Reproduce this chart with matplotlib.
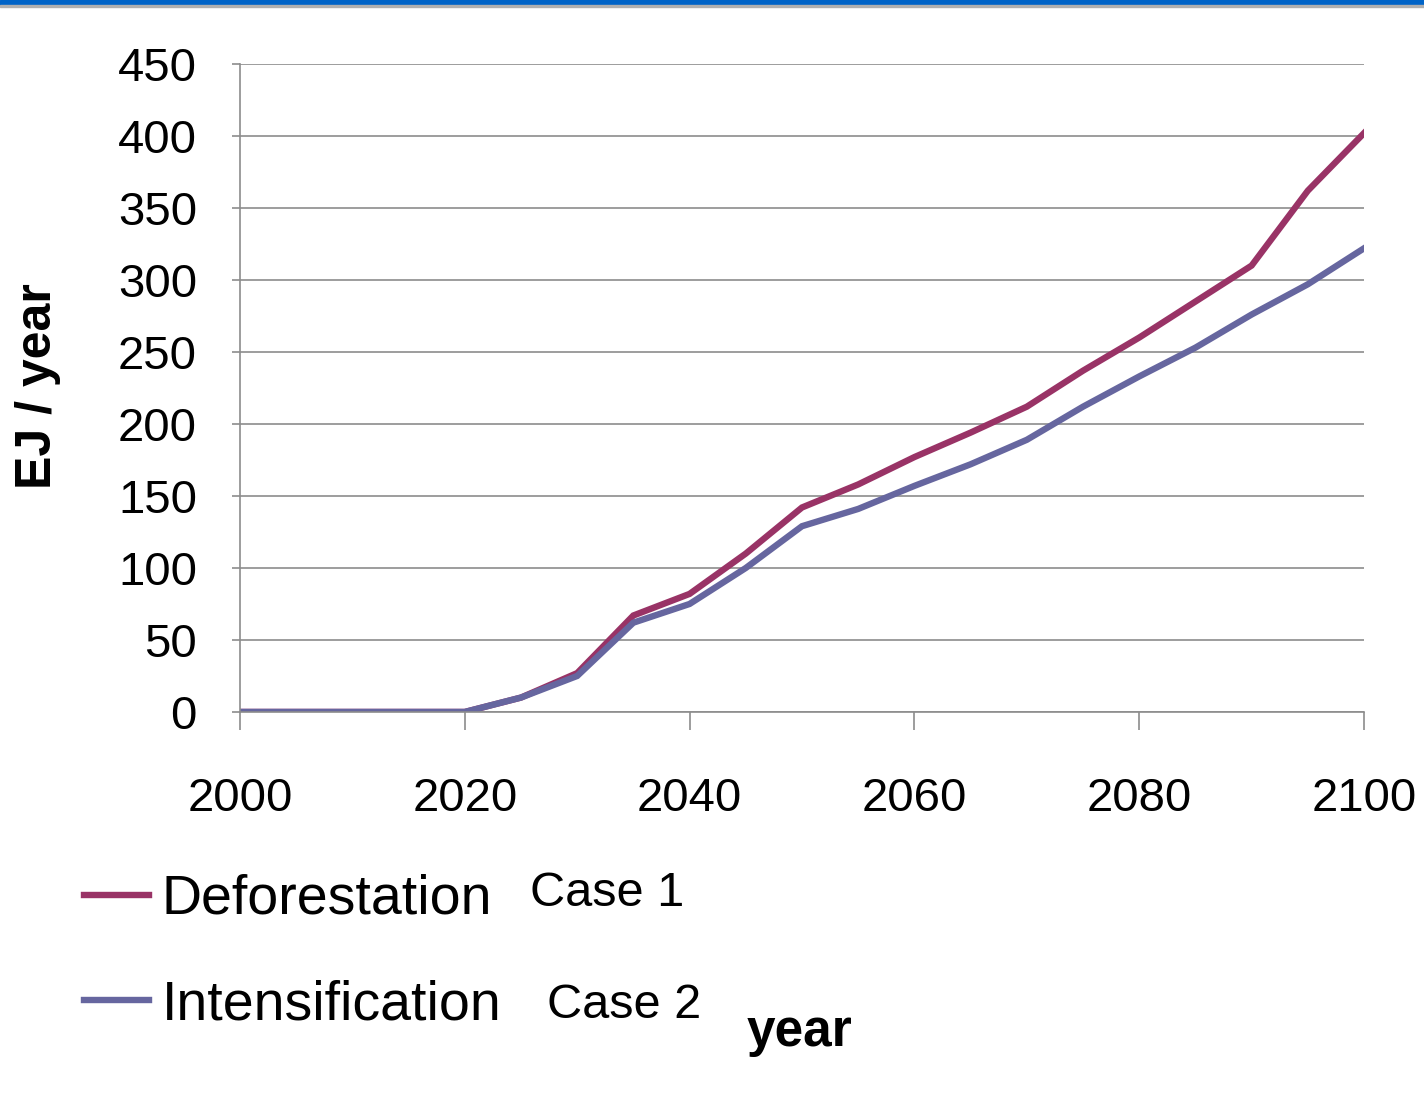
import matplotlib.pyplot as plt
from matplotlib.patches import Rectangle
from matplotlib import font_manager

years = [2000, 2005, 2010, 2015, 2020, 2025, 2030, 2035, 2040, 2045, 2050,
         2055, 2060, 2065, 2070, 2075, 2080, 2085, 2090, 2095, 2100]
deforestation = [0, 0, 0, 0, 0, 10, 27, 67, 82, 110, 142,
                 158, 177, 194, 212, 237, 260, 285, 310, 362, 402]
intensification = [0, 0, 0, 0, 0, 10, 25, 62, 75, 100, 129,
                   141, 157, 172, 189, 212, 233, 253, 276, 297, 322]
case_labels = ["Case 1", "Case 2"]

names = {f.name for f in font_manager.fontManager.ttflist}
narrow = "Liberation Sans Narrow" if "Liberation Sans Narrow" in names else "Liberation Sans"
plt.rcParams["font.family"] = [narrow, "DejaVu Sans"]

fig = plt.figure(figsize=(14.24, 10.95), dpi=100)
fig.patches.append(Rectangle((0, 1 - 5 / 1095), 1, 5 / 1095, transform=fig.transFigure,
                             color="#0064C8", zorder=10))
fig.patches.append(Rectangle((0, 1 - 7 / 1095), 1, 2 / 1095, transform=fig.transFigure,
                             color="#B0B0B0", zorder=10))

ax = fig.add_axes([0.1685, 0.3498, 0.7894, 0.5918])
l1, = ax.plot(years, deforestation, color="#993366", lw=4.6, solid_joinstyle="miter")
l2, = ax.plot(years, intensification, color="#66669F", lw=4.6, solid_joinstyle="miter")

ax.set_xlim(2000, 2100)
ax.set_ylim(0, 450)
ax.set_xticks(range(2000, 2101, 20))
ax.set_yticks(range(0, 451, 50))
ax.grid(axis="y", color="#8C8C8C", lw=1.2)
ax.set_axisbelow(True)
for s in ["top", "right"]:
    ax.spines[s].set_visible(False)
for s in ["left", "bottom"]:
    ax.spines[s].set_color("#8C8C8C")
    ax.spines[s].set_linewidth(1.2)
ax.tick_params(axis="x", direction="out", length=13, width=1.2, color="#8C8C8C",
               pad=34, labelsize=34)
ax.tick_params(axis="y", direction="out", length=6, width=1.2, color="#8C8C8C",
               pad=25, labelsize=34)

fig.text(0.027, 0.647, "EJ / year", rotation=90, fontsize=36, fontweight="bold",
         ha="center", va="center")

fig.legend([l1, l2], ["Deforestation", "Intensification"], loc="upper left",
           bbox_to_anchor=(0.024, 0.2475), frameon=False, fontsize=40,
           handlelength=1.17, handletextpad=0.22, labelspacing=0.96)
fig.text(0.372, 0.184, case_labels[0], fontsize=35, va="center")
fig.text(0.384, 0.082, case_labels[1], fontsize=35, va="center")
fig.text(0.524, 0.057, "year", fontsize=37, fontweight="bold", va="center")

fig.savefig("out.png", dpi=100)
